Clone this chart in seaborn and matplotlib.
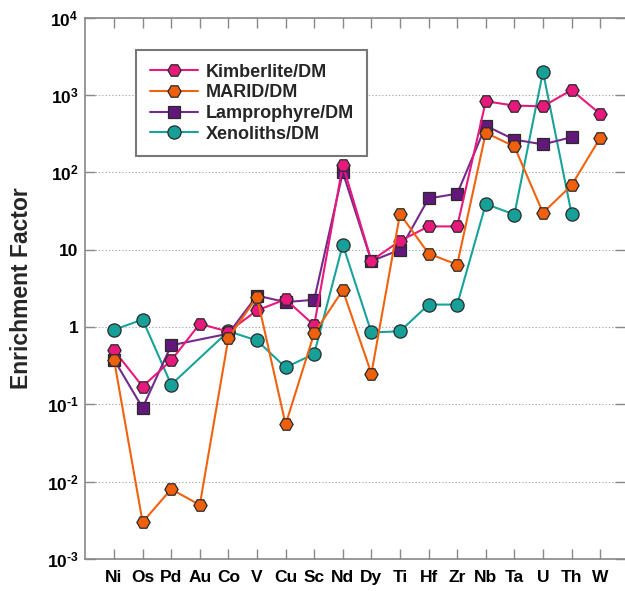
import numpy as np
import pandas as pd
import matplotlib
matplotlib.use("Agg")
import matplotlib.pyplot as plt
import seaborn as sns

# Element order along the x axis
elements = ["Ni", "Os", "Pd", "Au", "Co", "V", "Cu", "Sc", "Nd", "Dy",
            "Ti", "Hf", "Zr", "Nb", "Ta", "U", "Th", "W"]

# Enrichment factors relative to depleted mantle (NaN = not measured)
kimberlite = [0.50, 0.17, 0.37, 1.1, 0.87, 1.64, 2.28, 1.05, 125, 7.2,
              13, 20, 20, 830, 730, 715, 1160, 570]
marid = [0.38, 0.003, 0.008, 0.005, 0.72, 2.45, 0.055, 0.83, 3.0, 0.25,
         29, 8.9, 6.4, 325, 216, 30, 68, 280]
lamprophyre = [0.38, 0.09, 0.58, np.nan, 0.82, 2.55, 2.1, 2.25, 100, 7.1,
               10, 46, 53, 400, 265, 230, 285, np.nan]
xenoliths = [0.92, 1.25, 0.18, np.nan, 0.88, 0.67, 0.30, 0.45, 11.6, 0.85,
             0.88, 1.95, 1.95, 39, 28.5, 2000, 29, np.nan]

series_names = ["Kimberlite/DM", "MARID/DM", "Lamprophyre/DM", "Xenoliths/DM"]
series_values = [kimberlite, marid, lamprophyre, xenoliths]
line_colors = ["#E8197C", "#F0620E", "#742A8C", "#18A39A"]
marker_fill = ["#E8197C", "#EE600C", "#62187A", "#16A098"]
markers = ["H", "H", "s", "o"]
draw_order = [3, 2, 0, 1]

ytick_vals = [1e-3, 1e-2, 1e-1, 1, 10, 1e2, 1e3, 1e4]
ytick_labels = [r"$\mathbf{10^{‐3}}$", r"$\mathbf{10^{‐2}}$", r"$\mathbf{10^{‐1}}$",
                "1", "10", r"$\mathbf{10^{2}}$", r"$\mathbf{10^{3}}$", r"$\mathbf{10^{4}}$"]

sns.set_theme(style="white")
plt.rcParams["font.family"] = ["Liberation Sans", "DejaVu Sans"]
plt.rcParams["mathtext.fontset"] = "custom"
plt.rcParams["mathtext.rm"] = "Liberation Sans"
plt.rcParams["mathtext.bf"] = "Liberation Sans:bold"
plt.rcParams["mathtext.it"] = "Liberation Sans:italic"

frames = []
for name, vals in zip(series_names, series_values):
    frames.append(pd.DataFrame({"pos": np.arange(len(elements)),
                                "element": elements,
                                "value": vals,
                                "series": name}))
data = pd.concat(frames, ignore_index=True).dropna(subset=["value"])

fig = plt.figure(figsize=(6.25, 5.91), dpi=100)
ax = fig.add_axes([85.4 / 625, 1 - 559 / 591, (624.5 - 85.4) / 625, (559 - 17.7) / 591])

handles = {}
for i in draw_order:
    name = series_names[i]
    sub = data[data["series"] == name]
    sns.lineplot(data=sub, x="pos", y="value", ax=ax, color=line_colors[i],
                 lw=1.5, marker=markers[i], markersize=9.5 if markers[i] != "s" else 8.5,
                 markerfacecolor=marker_fill[i], markeredgecolor="#2a2a2a",
                 markeredgewidth=0.9, label=name, legend=False,
                 estimator=None, sort=False, zorder=3 + draw_order.index(i))
    handles[name] = ax.lines[-1]

ax.set_yscale("log")
ax.set_ylim(1e-3, 1e4)
ax.set_xlim(-1, 17.85)
ax.set_yticks(ytick_vals)
ax.set_yticklabels(ytick_labels)
ax.yaxis.set_minor_locator(matplotlib.ticker.NullLocator())
ax.set_xticks(np.arange(len(elements)))
ax.set_xticklabels(elements)

for lab in ax.get_xticklabels() + ax.get_yticklabels():
    lab.set_fontweight("bold")
    lab.set_fontsize(12.5)
    lab.set_color("black")

ax.tick_params(axis="x", direction="in", length=7, width=1, color="#888888",
               top=True, bottom=True, pad=8)
ax.tick_params(axis="y", direction="in", length=7, width=1, color="#888888",
               left=True, right=True, pad=5)

ax.grid(axis="y", which="major", linestyle=(0, (1.2, 1.8)), color="#aaaaaa", lw=0.8)
ax.grid(axis="x", visible=False)
for side in ["left", "top", "bottom"]:
    ax.spines[side].set_color("#888888")
    ax.spines[side].set_linewidth(1.2)
ax.spines["right"].set_visible(False)

ax.set_xlabel("")
ax.set_ylabel("Enrichment Factor", fontsize=16.5, fontweight="bold", labelpad=10)

leg = ax.legend([handles[n] for n in series_names], series_names,
                loc="upper left", bbox_to_anchor=(0.094, 0.94), borderaxespad=0,
                prop={"weight": "bold", "size": 13}, frameon=True, fancybox=False,
                framealpha=1, edgecolor="#777777", handlelength=2.7,
                handletextpad=0.4, labelspacing=0.2, borderpad=0.75)
leg.get_frame().set_linewidth(1.5)
leg.set_zorder(10)

fig.savefig("out.png", dpi=100)
